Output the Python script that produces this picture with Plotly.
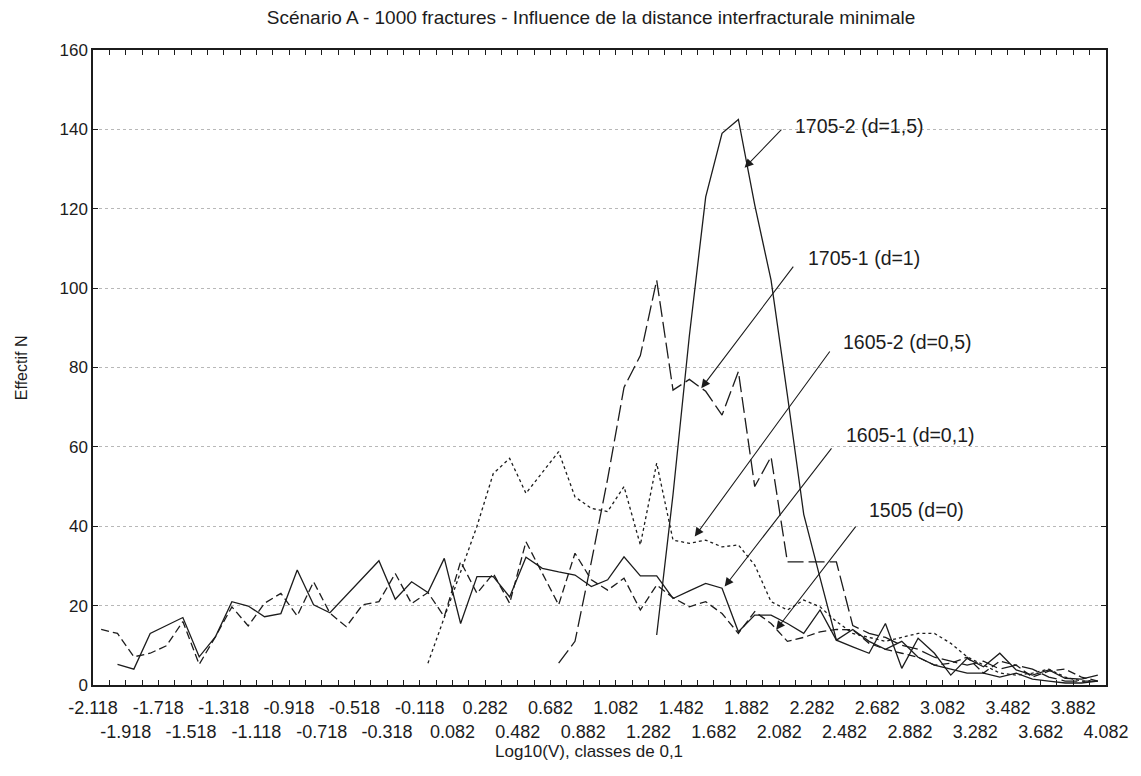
import numpy as np
import plotly.graph_objects as go

# Class boundaries of log10(V), width 0.1 (63 boundaries -> 62 classes)
bounds = np.round(-2.118 + 0.1 * np.arange(63), 3)
centers = np.round((bounds[:-1] + bounds[1:]) / 2, 3)

N = None
# Counts per class (62 classes), None where the run has no fracture
n_1505 = [14.0, 13.0, 7.1, 8.0, 9.9, 16.0, 5.2, 12.2, 19.7, 14.9,
          20.6, 23.1, 17.4, 26.0, 18.1, 14.7, 20.2, 21.0, 28.1, 20.5,
          23.3, 17.2, 31.1, 23.1, 28.1, 20.6, 36.1, 28.0, 20.2, 33.2,
          26.5, 23.9, 26.9, 18.9, 25.2, 22.0, 19.7, 21.0, 18.0, 13.0,
          18.5, 15.5, 11.0, 12.0, 13.4, 14.0, 13.9, 10.5, 9.0, 8.0,
          7.0, 5.0, 5.5, 7.0, 3.0, 6.0, 5.0, 2.0, 3.5, 4.0,
          2.0, 1.0]
n_1605_1 = [N, 5.2, 4.0, 13.0, 15.0, 17.0, 7.1, 12.2, 21.0, 19.9,
            17.2, 18.0, 29.0, 20.2, 18.2, 22.5, 27.0, 31.3, 21.6, 26.0,
            23.3, 31.9, 15.5, 27.3, 27.3, 22.2, 32.2, 29.4, 28.5, 27.7,
            24.8, 26.5, 32.3, 27.5, 27.5, 21.8, 23.7, 25.6, 24.4, 13.4,
            17.6, 17.6, 15.5, 13.0, 18.9, 11.3, 9.6, 8.0, 15.5, 4.2,
            11.8, 8.0, 2.5, 6.7, 4.6, 8.0, 3.8, 2.5, 3.8, 1.7,
            1.5, 2.5]
n_1605_2 = [N] * 20 + [5.5, 17.0, 28.0, 40.0, 53.3, 57.1, 48.3, 53.5, 58.8, 47.4,
                       44.5, 43.7, 50.0, 35.3, 55.9, 36.5, 35.7, 36.5, 34.8, 35.3,
                       30.2, 21.0, 18.9, 21.4, 19.7, 16.0, 13.0, 12.0, 11.0, 12.0,
                       13.0, 13.0, 10.5, 7.1, 5.0, 3.0, 2.5, 3.0, 4.0, 2.0,
                       1.0, 1.0]
n_1705_1 = [N] * 28 + [5.5, 11.0, 31.0, 52.0, 75.0, 83.0, 102.0, 74.3, 77.0, 74.0,
                       68.0, 79.0, 50.0, 57.5, 31.0, 31.0, 31.0, 31.0, 15.0, 13.0,
                       12.0, 10.0, 9.0, 7.0, 6.0, 5.0, 6.0, 4.0, 5.0, 4.0,
                       2.0, 1.0, 1.0, 1.0]
n_1705_2 = [N] * 34 + [12.6, 48.0, 88.0, 123.0, 139.0, 142.5, 121.0, 102.0, 73.0, 43.0,
                       27.0, 11.3, 14.0, 11.0, 9.0, 11.0, 7.0, 5.0, 4.0, 3.0,
                       3.0, 2.0, 3.0, 1.5, 1.0, 0.5, 0.5, 1.0]

INK = "#1c1c1c"
FONT = "Liberation Sans, Arial, sans-serif"

series = [
    ("1505 (d=0)", n_1505, "8px,4px"),
    ("1605-1 (d=0,1)", n_1605_1, "solid"),
    ("1605-2 (d=0,5)", n_1605_2, "3px,3px"),
    ("1705-1 (d=1)", n_1705_1, "16px,5px"),
    ("1705-2 (d=1,5)", n_1705_2, "solid"),
]

fig = go.Figure()
for name, vals, dash in series:
    fig.add_trace(go.Scatter(
        x=centers, y=vals, mode="lines", name=name,
        line=dict(color=INK, width=1.3, dash=dash),
        connectgaps=False, showlegend=False,
    ))

# tick labels every 0.2, staggered on two rows
ticktext = []
for j, b in enumerate(bounds):
    lab = f"{b:.3f}"
    if j % 4 == 0:
        ticktext.append(lab)
    elif j % 4 == 2:
        ticktext.append("<br>" + lab)
    else:
        ticktext.append("")

# series labels with arrows: (text, label x, label y, tail x, tail y, tip x, tip y)
callouts = [
    ("1705-2 (d=1,5)", 2.164, 140.8, 2.104, 140.3, 1.870, 130.3),
    ("1705-1 (d=1)", 2.244, 107.6, 2.175, 105.8, 1.605, 74.8),
    ("1605-2 (d=0,5)", 2.458, 86.4, 2.398, 84.4, 1.565, 37.4),
    ("1605-1 (d=0,1)", 2.476, 63.0, 2.409, 60.0, 1.748, 24.8),
    ("1505 (d=0)", 2.617, 44.1, 2.557, 40.3, 2.063, 13.9),
]
annotations = []
for text, lx, ly, tx, ty, hx, hy in callouts:
    annotations.append(dict(
        x=hx, y=hy, xref="x", yref="y", ax=tx, ay=ty, axref="x", ayref="y",
        text="", showarrow=True, arrowhead=2, arrowsize=1.6, arrowwidth=1.1,
        arrowcolor=INK, standoff=0,
    ))
    annotations.append(dict(
        x=lx, y=ly, xref="x", yref="y", text=text, showarrow=False,
        xanchor="left", yanchor="middle", font=dict(size=19.5, color=INK, family=FONT),
    ))

annotations.append(dict(
    x=0.49, y=-0.1055, xref="paper", yref="paper", text="Log10(V), classes de 0,1",
    showarrow=False, xanchor="center", yanchor="middle",
    font=dict(size=17, color=INK, family=FONT),
))
annotations.append(dict(
    x=-0.0704, y=0.5, xref="paper", yref="paper", text="Effectif N", textangle=-90,
    showarrow=False, xanchor="center", yanchor="middle",
    font=dict(size=16, color=INK, family=FONT),
))

fig.update_layout(
    width=1141, height=776, autosize=False,
    margin=dict(l=93, r=32, t=50, b=91),
    paper_bgcolor="white", plot_bgcolor="white",
    font=dict(family=FONT, color=INK),
    title=dict(
        text="Scénario A - 1000 fractures - Influence de la distance interfracturale minimale",
        x=0.518, xanchor="center", y=1 - 17 / 776, yanchor="middle", yref="container",
        font=dict(size=19, color=INK, family=FONT),
    ),
    annotations=annotations,
)
fig.update_xaxes(
    range=[bounds[0], bounds[-1]], tickmode="array", tickvals=bounds, ticktext=ticktext,
    ticks="inside", ticklen=5, tickcolor=INK, tickwidth=1,
    showline=True, linecolor=INK, linewidth=1.5, mirror="ticks",
    showgrid=False, zeroline=False, tickangle=0, ticklabelstandoff=6,
    tickfont=dict(size=18, color=INK, family=FONT),
)
fig.update_yaxes(
    range=[0, 160], tickmode="array", tickvals=list(range(0, 161, 20)),
    ticks="inside", ticklen=5, tickcolor=INK, tickwidth=1,
    showline=True, linecolor=INK, linewidth=1.5, mirror="ticks",
    showgrid=True, gridcolor="#b8b8b8", griddash="dot", gridwidth=1,
    zeroline=False,
    tickfont=dict(size=17, color=INK, family=FONT),
)

fig.write_html("out.html")
